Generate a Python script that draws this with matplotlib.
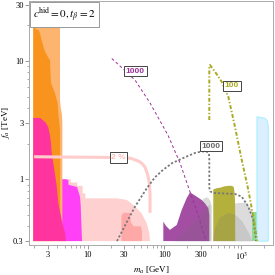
import numpy as np
import matplotlib
matplotlib.use("Agg")
import matplotlib.pyplot as plt
from matplotlib.ticker import FixedLocator, NullFormatter

plt.rcParams['mathtext.fontset'] = 'stix'
plt.rcParams['font.family'] = ['Liberation Serif', 'DejaVu Serif']

# excluded regions, m_a in GeV and f_a in TeV
peach_m = [1.95, 4.35, 4.35, 4.45, 4.6, 4.67, 4.67, 1.95]
peach_f = [32, 32, 4.7, 4.0, 3.6, 3.0, 0.3, 0.3]

orange_m = [1.95, 2.1, 2.1, 2.3, 2.39, 2.72, 3.1, 3.22, 3.32, 3.75, 4.06, 4.14, 4.35, 4.4, 1.95]
orange_f = [32, 32, 18.5, 18.3, 17, 12.4, 10.5, 10.2, 6.5, 5.33, 4.38, 3.6, 2.6, 0.3, 0.3]

pink_m = [1.95, 2.4, 2.85, 3.06, 3.2, 3.3, 3.39, 3.67, 3.94, 4.14, 4.58, 5.06, 5.21, 1.95]
pink_f = [3.3, 3.3, 3.0, 2.75, 2.4, 2.1, 1.67, 1.2, 0.87, 0.63, 0.45, 0.35, 0.3, 0.3]

magenta_m = [4.35, 5.3, 5.6, 5.6, 6.3, 7.25, 7.6, 7.94, 8.1, 8.43, 4.35]
magenta_f = [1.0, 1.0, 0.98, 0.9, 0.88, 0.86, 0.78, 0.71, 0.6, 0.3, 0.3]

lpink_m = [4.6, 6.0, 6.0, 7.3, 7.3, 8.6, 8.6, 9.3, 9.3, 24, 32.5, 41.4, 50.4, 58.7, 63.6, 64.9, 4.6]
lpink_f = [1.0, 1.0, 0.94, 0.94, 0.88, 0.88, 0.76, 0.76, 0.69, 0.69, 0.668, 0.587, 0.516, 0.425, 0.35, 0.3, 0.3]

dpink_m = [27.5, 27.5, 29, 35.6, 36.5, 40, 49.6, 51, 51]
dpink_f = [0.3, 0.49, 0.52, 0.52, 0.43, 0.40, 0.40, 0.36, 0.3]

line2_m = [2.0, 19.5, 35.6, 39, 44, 48.1, 52, 55.8, 60.6, 63.6, 64.9, 64.9]
line2_f = [1.55, 1.53, 1.51, 1.48, 1.44, 1.40, 1.34, 1.27, 1.09, 0.93, 0.75, 0.52]

gray1_m = [300, 300, 345, 370, 395, 414, 414]
gray1_f = [0.3, 0.66, 0.70, 0.70, 0.66, 0.6, 0.3]

purple_m = [96.8, 96.8, 105, 118, 145, 168, 195, 216, 264, 306, 338, 374, 385, 385]
purple_f = [0.3, 0.438, 0.403, 0.373, 0.411, 0.55, 0.691, 0.775, 0.713, 0.668, 0.625, 0.568, 0.499, 0.3]

shade1_m = [137, 238, 356, 393, 400]
shade1_f = [0.3, 0.425, 0.587, 0.6, 0.3]

olive_m = [434, 434, 480, 540, 600, 680, 760, 800, 820, 835, 840]
olive_f = [0.3, 0.82, 0.84, 0.85, 0.87, 0.88, 0.88, 0.86, 0.78, 0.65, 0.3]

gray2_m = [832, 832, 931, 1194, 1310, 1455, 1517]
gray2_f = [0.3, 0.62, 0.631, 0.631, 0.568, 0.516, 0.3]

shade2_m = [434, 457, 530, 680, 832, 1028, 1250, 1387]
shade2_f = [0.3, 0.373, 0.47, 0.516, 0.499, 0.438, 0.35, 0.3]

green_m = [1387, 1387, 1611, 1611]
green_f = [0.3, 0.532, 0.532, 0.3]

blue_m = [1611, 1611, 2049, 2200, 2264, 2264]
blue_f = [0.3, 3.38, 3.28, 3.1, 2.78, 0.3]

# contours
gray_dash_m = [24.1, 32.5, 41.4, 59.3, 75.4, 95.9, 126, 175, 251, 310, 360, 380, 385, 385, 395, 434, 832, 1019, 1242, 1442, 1549, 1563]
gray_dash_f = [0.30, 0.438, 0.587, 0.844, 1.04, 1.20, 1.37, 1.51, 1.67, 1.72, 1.71, 1.66, 1.55, 0.85, 0.79, 0.766, 0.751, 0.713, 0.587, 0.453, 0.327, 0.30]

purple_dash_m = [20.6, 26.4, 41.4, 64.9, 111, 160, 216, 274, 349]
purple_dash_f = [10.5, 9.07, 6.9, 4.42, 2.37, 1.37, 0.781, 0.499, 0.301]

olive_dash_m = [385, 385, 393, 457, 559, 681, 832, 1019, 1242, 1442, 1591, 1611]
olive_dash_f = [3.17, 8.95, 9.25, 8.12, 6.68, 4.99, 2.78, 1.46, 0.812, 0.483, 0.327, 0.30]

x_ticks = [3, 10, 30, 100, 300, 1000]
x_tick_labels = ['3', '10', '30', '100', '300', r'$10^3$']
y_ticks = [0.3, 1, 3, 10, 30]
y_tick_labels = ['0.3', '1', '3', '10', '30']

fig = plt.figure(figsize=(2.75, 2.75), dpi=100)
ax = fig.add_axes([0.1065, 0.1091, 0.8873, 0.8873])
ax.set_xscale('log')
ax.set_yscale('log')

# filled regions
ax.fill(lpink_m, lpink_f, color='#ffd0d0', lw=0, zorder=1)
ax.fill(dpink_m, dpink_f, color='#ffa8a8', lw=0, zorder=1.1)
ax.fill(magenta_m, magenta_f, color='#ff40f6', lw=0, zorder=1.2)
ax.fill(peach_m, peach_f, color='#fdb46e', lw=0, zorder=1.3)
ax.fill(orange_m, orange_f, color='#f8941e', lw=0, zorder=1.4)
ax.fill(pink_m, pink_f, color='#ff349e', lw=0, zorder=1.5)
ax.plot(line2_m, line2_f, color='#ffcccc', lw=2.2, solid_capstyle='butt', zorder=1.6)

ax.fill(gray1_m, gray1_f, color='#dadada', lw=0, zorder=1)
ax.fill(purple_m, purple_f, color='#a34da3', lw=0, zorder=1.2)
ax.fill(shade1_m, shade1_f, facecolor='#707070', alpha=0.18, edgecolor='#888888', lw=0.4, zorder=1.3)
ax.fill(olive_m, olive_f, color='#b3b03c', lw=0, zorder=1.2)
ax.fill(gray2_m, gray2_f, color='#dcdcdc', lw=0, zorder=1.1)
ax.fill(shade2_m, shade2_f, facecolor='#707070', alpha=0.18, edgecolor='#888888', lw=0.4, zorder=1.3)
ax.fill(green_m, green_f, color='#90dc90', lw=0, zorder=1.4)
ax.fill(blue_m, blue_f, facecolor='#dcefff', edgecolor='#a8f0ff', lw=0.8, zorder=1.4)

# contour lines
ax.plot(gray_dash_m, gray_dash_f, color='#777777', lw=1.3, ls=(0, (1.2, 1.1)), zorder=3)
ax.plot(purple_dash_m, purple_dash_f, color='#993399', lw=0.7, ls=(0, (3, 2.5)), zorder=3)
ax.plot(olive_dash_m, olive_dash_f, color='#aaaa22', lw=1.4, ls=(0, (2, 1, 0.7, 1)), zorder=3)

box = dict(boxstyle='square,pad=0.2', fc='white', ec='#444444', lw=0.7)
lab = dict(family=['Liberation Sans', 'DejaVu Sans'], fontsize=6, fontweight='bold',
           ha='center', va='center', zorder=4)
ax.text(405, 1.91, '1000', color='#666666', bbox=box, **lab)
ax.text(41.8, 8.23, '1000', color='#993399', bbox=box, **lab)
ax.text(761, 6.15, '100', color='#aaaa22', bbox=box, **lab)
ax.text(25.2, 1.53, '2 %', color='#ffbbbb', bbox=box, **lab)

ax.text(0.015, 0.982, r'$c^{\rm hid} = 0, t_\beta = 2$', transform=ax.transAxes,
        ha='left', va='top', fontsize=8, zorder=5,
        bbox=dict(boxstyle='square,pad=0.3', fc='white', ec='#999999', lw=0.7))

ax.set_xlim(1.73, 2630)
ax.set_ylim(0.278, 32.2)

ax.xaxis.set_major_locator(FixedLocator(x_ticks))
ax.set_xticklabels(x_tick_labels)
ax.yaxis.set_major_locator(FixedLocator(y_ticks))
ax.set_yticklabels(y_tick_labels)
xminor = [k * 10.0 ** e for e in range(0, 4) for k in range(2, 10)]
yminor = [k * 10.0 ** e for e in range(-1, 2) for k in range(2, 10)]
ax.xaxis.set_minor_locator(FixedLocator(xminor))
ax.yaxis.set_minor_locator(FixedLocator(yminor))
ax.xaxis.set_minor_formatter(NullFormatter())
ax.yaxis.set_minor_formatter(NullFormatter())
ax.tick_params(which='major', length=3, width=0.6, color='#888888', labelsize=6, pad=1)
ax.tick_params(which='minor', length=1.8, width=0.5, color='#888888')

for s in ax.spines.values():
    s.set_color('#aaaaaa')
    s.set_linewidth(0.7)

ax.set_xlabel(r'$m_a$ [GeV]', fontsize=6.5, labelpad=2)
ax.set_ylabel(r'$f_a$ [TeV]', fontsize=6.5, labelpad=1)

fig.savefig('out.png', dpi=100)
